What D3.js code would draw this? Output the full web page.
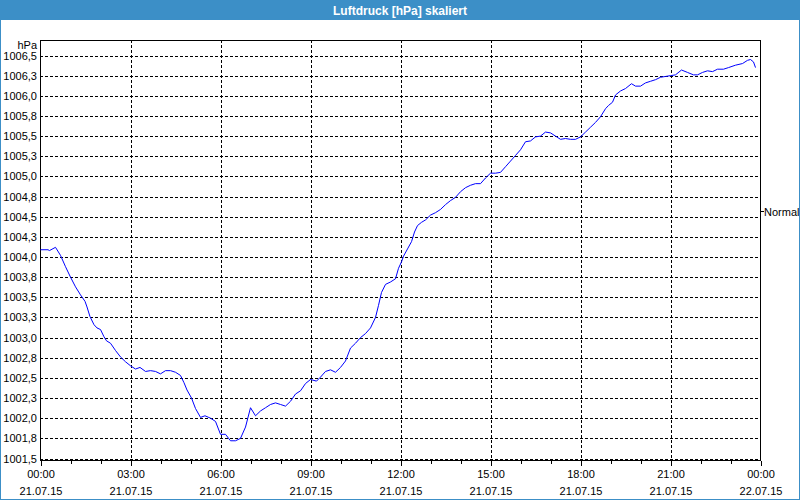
<!DOCTYPE html>
<html>
<head>
<meta charset="utf-8">
<script src="https://cdn.jsdelivr.net/npm/d3@7/dist/d3.min.js"></script>
<style>
  html, body { margin: 0; padding: 0; background: #ffffff; }
  svg { display: block; }
  text { font-family: "Liberation Sans", Arial, sans-serif; }
</style>
</head>
<body>
<svg id="chart" width="800" height="500"></svg>
<script>
// ---- data ----
const chartTitle = "Luftdruck [hPa] skaliert";
const unitLabel = "hPa";
// minutes since 21.07.15 00:00
const times = [0,15,18,30,40,50,60,70,80,89,93,99,107,113,120,127,132,140,150,160,170,180,190,199,210,220,230,240,250,260,270,280,287,293,302,310,320,329,340,350,360,370,380,390,400,410,420,430,440,450,460,470,480,490,500,510,520,530,540,552,560,570,580,590,600,610,620,630,640,650,660,670,676,682,690,700,710,716,722,726,734,742,748,754,762,770,780,790,800,810,820,830,840,850,860,870,880,890,900,910,920,930,940,950,960,970,980,990,1000,1010,1020,1030,1040,1050,1060,1070,1080,1090,1100,1110,1120,1130,1136,1144,1150,1160,1170,1182,1190,1200,1210,1220,1230,1240,1250,1260,1270,1282,1294,1306,1314,1324,1334,1344,1354,1366,1376,1390,1404,1414,1420,1426,1430];
const pressure = [1004.09,1004.09,1004.08,1004.12,1004.02,1003.88,1003.75,1003.63,1003.53,1003.45,1003.38,1003.26,1003.16,1003.12,1003.10,1003.01,1002.96,1002.93,1002.84,1002.76,1002.70,1002.65,1002.61,1002.63,1002.58,1002.59,1002.58,1002.55,1002.59,1002.59,1002.57,1002.53,1002.44,1002.35,1002.25,1002.12,1002.01,1002.03,1002.00,1001.96,1001.80,1001.80,1001.72,1001.72,1001.75,1001.89,1002.13,1002.03,1002.09,1002.13,1002.17,1002.19,1002.17,1002.15,1002.21,1002.30,1002.34,1002.43,1002.48,1002.46,1002.51,1002.58,1002.60,1002.57,1002.63,1002.71,1002.87,1002.93,1003.00,1003.05,1003.12,1003.25,1003.40,1003.56,1003.66,1003.69,1003.73,1003.86,1003.94,1004.01,1004.10,1004.19,1004.31,1004.39,1004.43,1004.46,1004.52,1004.55,1004.59,1004.65,1004.70,1004.74,1004.81,1004.86,1004.89,1004.91,1004.91,1004.98,1005.04,1005.04,1005.05,1005.12,1005.19,1005.26,1005.33,1005.43,1005.44,1005.49,1005.50,1005.55,1005.54,1005.50,1005.46,1005.47,1005.46,1005.46,1005.49,1005.55,1005.61,1005.67,1005.74,1005.84,1005.88,1005.92,1006.01,1006.06,1006.09,1006.15,1006.12,1006.12,1006.16,1006.18,1006.20,1006.23,1006.24,1006.25,1006.26,1006.32,1006.29,1006.26,1006.26,1006.29,1006.31,1006.30,1006.33,1006.33,1006.35,1006.38,1006.40,1006.44,1006.45,1006.42,1006.35];
const normalValue = 1004.57;
const normalLabel = "Normal";
const yTicks = [1001.5,1001.75,1002,1002.25,1002.5,1002.75,1003,1003.25,1003.5,1003.75,1004,1004.25,1004.5,1004.75,1005,1005.25,1005.5,1005.75,1006,1006.25,1006.5];
const yTickLabels = ["1001,5","1001,8","1002,0","1002,3","1002,5","1002,8","1003,0","1003,3","1003,5","1003,8","1004,0","1004,3","1004,5","1004,8","1005,0","1005,3","1005,5","1005,8","1006,0","1006,3","1006,5"];
const xMajorTicks = [0,180,360,540,720,900,1080,1260,1440];
const xTimeLabels = ["00:00","03:00","06:00","09:00","12:00","15:00","18:00","21:00","00:00"];
const xDateLabels = ["21.07.15","21.07.15","21.07.15","21.07.15","21.07.15","21.07.15","21.07.15","21.07.15","22.07.15"];
const xMinorTicks = d3.range(0, 1441, 60);

// ---- layout ----
const W = 800, H = 500;
const plot = { left: 40, right: 760, top: 40, bottom: 460 };
const blue = "#3c8fc7";

const svg = d3.select("#chart");

// background + window border + title bar
svg.append("rect").attr("x", 0).attr("y", 0).attr("width", W).attr("height", H).attr("fill", "#ffffff");
svg.append("rect").attr("x", 0.5).attr("y", 0.5).attr("width", W - 1).attr("height", H - 1)
  .attr("fill", "none").attr("stroke", blue).attr("stroke-width", 1);
svg.append("rect").attr("x", 0).attr("y", 0).attr("width", W).attr("height", 20).attr("fill", blue);
svg.append("text").attr("x", W / 2).attr("y", 14.5).attr("text-anchor", "middle")
  .attr("fill", "#ffffff").attr("font-weight", "bold").attr("font-size", "12px").text(chartTitle);

const x = d3.scaleLinear().domain([0, 1440]).range([plot.left + 0.5, plot.right + 0.5]);
const y = d3.scaleLinear().domain([1001.5, 1006.5]).range([458.5, 55.5]);

// grid lines
const gGridY = svg.append("g").attr("transform", `translate(${plot.left},0)`)
  .call(d3.axisLeft(y).tickValues(yTicks).tickSize(-(plot.right - plot.left)).tickFormat(""));
gGridY.select(".domain").remove();
gGridY.selectAll("line").attr("stroke", "#000").attr("stroke-dasharray", "3,2").attr("shape-rendering", "crispEdges");

const gGridX = svg.append("g").attr("transform", `translate(0,${plot.top})`)
  .call(d3.axisTop(x).tickValues(xMajorTicks.slice(1, -1)).tickSize(-(plot.bottom - plot.top)).tickFormat(""));
gGridX.select(".domain").remove();
gGridX.selectAll("line").attr("stroke", "#000").attr("stroke-dasharray", "3,2").attr("shape-rendering", "crispEdges");

// frame
svg.append("rect").attr("x", plot.left + 0.5).attr("y", plot.top + 0.5)
  .attr("width", plot.right - plot.left).attr("height", plot.bottom - plot.top)
  .attr("fill", "none").attr("stroke", "#000").attr("stroke-width", 1).attr("shape-rendering", "crispEdges");

// y axis labels
const gY = svg.append("g").attr("transform", `translate(${plot.left},0)`)
  .call(d3.axisLeft(y).tickValues(yTicks).tickSize(0).tickPadding(3)
    .tickFormat((d, i) => yTickLabels[i]));
gY.select(".domain").remove();
gY.selectAll("text").attr("font-family", "Liberation Sans, Arial, sans-serif").attr("font-size", "11px").attr("fill", "#000");

svg.append("text").attr("x", 37).attr("y", 49).attr("text-anchor", "end")
  .attr("font-size", "11px").attr("fill", "#000").text(unitLabel);

// x axis: minor ticks
const gXMinor = svg.append("g").attr("transform", `translate(0,${plot.bottom + 0.5})`)
  .call(d3.axisBottom(x).tickValues(xMinorTicks).tickSize(3).tickFormat(""));
gXMinor.select(".domain").remove();
gXMinor.selectAll("line").attr("stroke", "#000").attr("shape-rendering", "crispEdges");

// x axis: major ticks + labels
const gX = svg.append("g").attr("transform", `translate(0,${plot.bottom + 0.5})`)
  .call(d3.axisBottom(x).tickValues(xMajorTicks).tickSize(5).tickPadding(5)
    .tickFormat((d, i) => xTimeLabels[i]));
gX.select(".domain").remove();
gX.selectAll("line").attr("stroke", "#000").attr("shape-rendering", "crispEdges");
gX.selectAll("text").attr("font-family", "Liberation Sans, Arial, sans-serif").attr("font-size", "11px").attr("fill", "#000")
  .each(function (d, i) {
    d3.select(this).append("tspan").attr("x", 0).attr("dy", "1.55em").text(xDateLabels[i]);
  });

// data line
svg.append("path")
  .datum(times.map((t, i) => [t, pressure[i]]))
  .attr("fill", "none").attr("stroke", "#0000ff").attr("stroke-width", 1)
  .attr("d", d3.line().x(d => x(d[0])).y(d => y(d[1])));

// normal marker
const yn = Math.round(y(normalValue)) + 0.5;
svg.append("line").attr("x1", plot.right).attr("x2", plot.right + 4).attr("y1", yn).attr("y2", yn)
  .attr("stroke", "#000").attr("shape-rendering", "crispEdges");
svg.append("text").attr("x", plot.right + 4).attr("y", yn + 4)
  .attr("font-size", "11px").attr("fill", "#000").text(normalLabel);
</script>
</body>
</html>
